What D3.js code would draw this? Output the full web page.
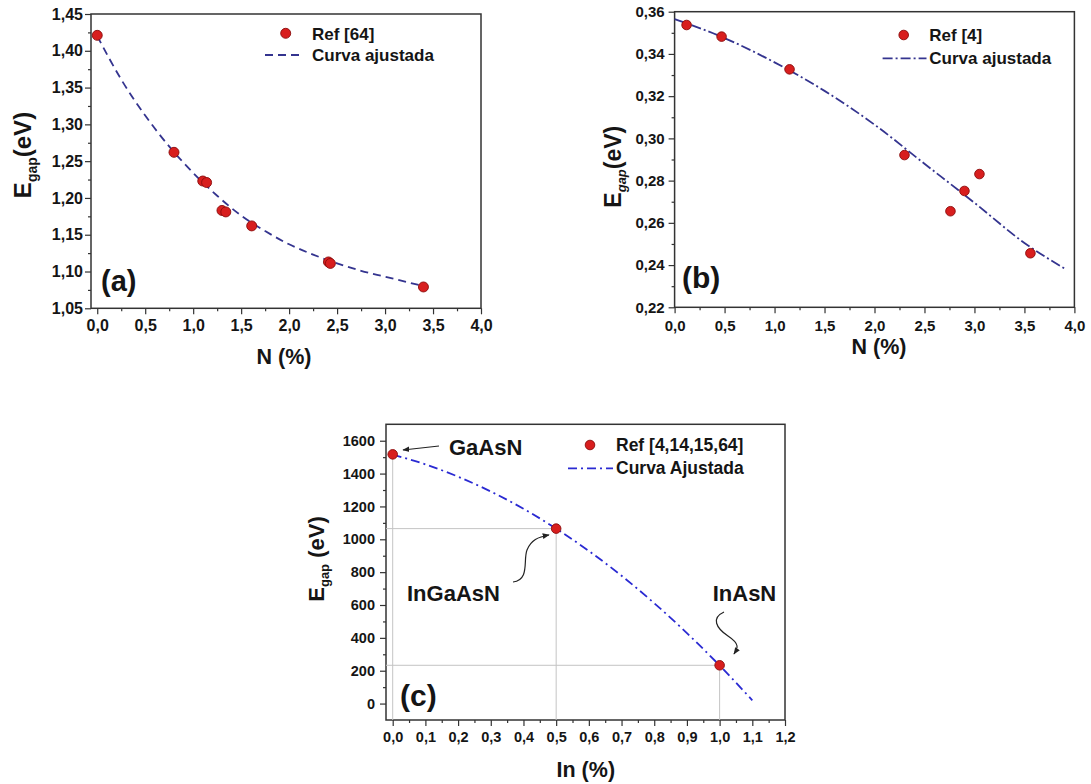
<!DOCTYPE html>
<html>
<head>
<meta charset="utf-8">
<script src="https://cdn.jsdelivr.net/npm/d3@7"></script>
<style>
  html, body { margin: 0; padding: 0; background: #fff; }
  svg { display: block; font-family: "Liberation Sans", Arial, Helvetica, sans-serif; font-weight: bold; }
</style>
</head>
<body>
<svg id="fig" width="1091" height="784"></svg>
<script>
// ---------- (a) E_gap vs N, Ref [64] ----------
const nA    = [0.00, 0.80, 1.10, 1.14, 1.30, 1.34, 1.61, 2.41, 2.43, 3.40];
const eA    = [1.421, 1.262, 1.223, 1.221, 1.183, 1.181, 1.162, 1.113, 1.111, 1.079];
const fitNA = [0, 0.25, 0.5, 0.75, 1.0, 1.25, 1.5, 1.75, 2.0, 2.25, 2.5, 2.75, 3.0, 3.25, 3.4];
const fitEA = [1.420, 1.361, 1.312, 1.270, 1.234, 1.203, 1.176, 1.155, 1.137, 1.123, 1.111, 1.101, 1.093, 1.085, 1.080];
const xTicksA = [0, 0.5, 1.0, 1.5, 2.0, 2.5, 3.0, 3.5, 4.0];
const yTicksA = [1.05, 1.10, 1.15, 1.20, 1.25, 1.30, 1.35, 1.40, 1.45];

// ---------- (b) E_gap vs N, Ref [4] ----------
const nB    = [0.12, 0.47, 1.15, 2.30, 2.76, 2.90, 3.05, 3.56];
const eB    = [0.3537, 0.3482, 0.3327, 0.2921, 0.2655, 0.2751, 0.2831, 0.2456];
const fitNB = [0, 0.5, 1.0, 1.5, 2.0, 2.5, 3.0, 3.5, 3.9];
const fitEB = [0.3565, 0.3475, 0.3360, 0.3225, 0.3065, 0.2880, 0.2695, 0.2505, 0.2384];
const xTicksB = [0, 0.5, 1.0, 1.5, 2.0, 2.5, 3.0, 3.5, 4.0];
const yTicksB = [0.22, 0.24, 0.26, 0.28, 0.30, 0.32, 0.34, 0.36];

// ---------- (c) E_gap vs In ----------
const inC    = [0.0, 0.5, 1.0];
const eC     = [1517, 1065, 233];
const nameC  = ["GaAsN", "InGaAsN", "InAsN"];
const fitInC = [0, 0.1, 0.2, 0.3, 0.4, 0.5, 0.6, 0.7, 0.8, 0.9, 1.0, 1.1];
const fitEC  = [1515, 1456, 1381, 1291, 1186, 1065, 929, 778, 611, 429, 232, 20];
const xTicksC = [0, 0.1, 0.2, 0.3, 0.4, 0.5, 0.6, 0.7, 0.8, 0.9, 1.0, 1.1, 1.2];
const yTicksC = [0, 200, 400, 600, 800, 1000, 1200, 1400, 1600];

const svg = d3.select("#fig");
svg.append("rect").attr("width", 1091).attr("height", 784).attr("fill", "#fff");

const defs = svg.append("defs");
defs.append("marker")
  .attr("id", "head").attr("viewBox", "0 0 10 10")
  .attr("refX", 9).attr("refY", 5)
  .attr("markerWidth", 7).attr("markerHeight", 7)
  .attr("markerUnits", "userSpaceOnUse")
  .attr("orient", "auto")
  .append("path").attr("d", "M0,1 L10,5 L0,9 Z").attr("fill", "#222");

const comma = dec => d => d.toFixed(dec).replace(".", ",");

function midpoints(t) {
  const m = [];
  for (let i = 0; i < t.length - 1; i++) m.push((t[i] + t[i + 1]) / 2);
  return m;
}

function drawPanel(o) {
  const g = svg.append("g");
  const x = d3.scaleLinear().domain(o.xDomain).range([o.left, o.right]);
  const y = d3.scaleLinear().domain(o.yDomain).range([o.bottom, o.top]);

  const styleAxis = sel => {
    sel.select(".domain").remove();
    sel.selectAll(".tick line").attr("stroke", "#333").attr("stroke-width", 1.2);
    sel.selectAll(".tick text")
      .attr("fill", "#151515")
      .style("font-size", o.tickFont + "px")
      .style("font-weight", "bold")
      .style("font-family", '"Liberation Sans", Arial, sans-serif');
  };

  // minor ticks
  g.append("g").attr("transform", `translate(0,${o.bottom})`)
    .call(d3.axisBottom(x).tickValues(midpoints(o.xTicks)).tickSize(3).tickFormat(""))
    .call(styleAxis);
  g.append("g").attr("transform", `translate(${o.left},0)`)
    .call(d3.axisLeft(y).tickValues(midpoints(o.yTicks)).tickSize(3).tickFormat(""))
    .call(styleAxis);

  // major ticks with labels
  g.append("g").attr("transform", `translate(0,${o.bottom})`)
    .call(d3.axisBottom(x).tickValues(o.xTicks).tickSize(6).tickPadding(o.xPad).tickFormat(o.xFmt))
    .call(styleAxis);
  g.append("g").attr("transform", `translate(${o.left},0)`)
    .call(d3.axisLeft(y).tickValues(o.yTicks).tickSize(6).tickPadding(o.yPad).tickFormat(o.yFmt))
    .call(styleAxis);

  // frame
  g.append("rect")
    .attr("x", o.left).attr("y", o.top)
    .attr("width", o.right - o.left).attr("height", o.bottom - o.top)
    .attr("fill", "none").attr("stroke", "#333").attr("stroke-width", 1.5);

  return { g, x, y };
}

function fitLine(p, xs, ys, color, dash, width) {
  const pts = xs.map((v, i) => [v, ys[i]]);
  const line = d3.line().x(d => p.x(d[0])).y(d => p.y(d[1])).curve(d3.curveMonotoneX);
  p.g.append("path").datum(pts)
    .attr("d", line).attr("fill", "none")
    .attr("stroke", color).attr("stroke-width", width)
    .attr("stroke-dasharray", dash);
}

function dots(p, xs, ys, r) {
  p.g.selectAll(null).data(xs.map((v, i) => [v, ys[i]])).enter()
    .append("circle")
    .attr("cx", d => p.x(d[0])).attr("cy", d => p.y(d[1]))
    .attr("r", r).attr("fill", "#d81e1e")
    .attr("stroke", "#8a0c0c").attr("stroke-width", 0.9);
}

function text(g, x, y, str, size, anchor) {
  return g.append("text").attr("x", x).attr("y", y)
    .attr("text-anchor", anchor || "start")
    .attr("fill", "#151515").style("font-size", size + "px").text(str);
}

function yTitle(g, cx, cy, size, subSize, italicSub, space) {
  const t = g.append("text")
    .attr("transform", `translate(${cx},${cy}) rotate(-90)`)
    .attr("text-anchor", "middle").attr("fill", "#151515")
    .style("font-size", size + "px");
  t.append("tspan").text("E");
  t.append("tspan").attr("dy", subSize * 0.4).style("font-size", subSize + "px")
    .style("font-style", italicSub ? "italic" : "normal").text("gap");
  t.append("tspan").attr("dy", -subSize * 0.4).text((space ? " " : "") + "(eV)");
}

// ================= Panel (a) =================
const pA = drawPanel({
  left: 91, right: 481, top: 14, bottom: 308.3,
  xDomain: [-0.065, 4.0], yDomain: [1.05, 1.45],
  xTicks: xTicksA, yTicks: yTicksA,
  xFmt: comma(1), yFmt: comma(2),
  tickFont: 16, xPad: 5.4, yPad: 2
});
fitLine(pA, fitNA, fitEA, "#34348f", "8,5", 1.8);
dots(pA, nA, eA, 5);
// legend
pA.g.append("circle").attr("cx", 285.7).attr("cy", 33.3).attr("r", 5)
  .attr("fill", "#d81e1e").attr("stroke", "#8a0c0c").attr("stroke-width", 0.9);
text(pA.g, 312, 39.5, "Ref [64]", 17);
pA.g.append("line").attr("x1", 265).attr("x2", 302).attr("y1", 55).attr("y2", 55)
  .attr("stroke", "#34348f").attr("stroke-width", 1.8).attr("stroke-dasharray", "8,5");
text(pA.g, 312, 61, "Curva ajustada", 17);
text(pA.g, 101, 291, "(a)", 29);
text(pA.g, 284, 364, "N (%)", 21.5, "middle");
yTitle(pA.g, 31, 155, 24, 14, false, false);

// ================= Panel (b) =================
const pB = drawPanel({
  left: 674.6, right: 1074.4, top: 11.7, bottom: 307.3,
  xDomain: [0, 4.0], yDomain: [0.22, 0.36],
  xTicks: xTicksB, yTicks: yTicksB,
  xFmt: comma(1), yFmt: comma(2),
  tickFont: 15, xPad: 6.7, yPad: 4
});
fitLine(pB, fitNB, fitEB, "#34348f", "10,3,2,3", 1.8);
dots(pB, nB, eB, 4.8);
pB.g.append("circle").attr("cx", 903.7).attr("cy", 35).attr("r", 4.8)
  .attr("fill", "#d81e1e").attr("stroke", "#8a0c0c").attr("stroke-width", 0.9);
text(pB.g, 929.3, 41, "Ref [4]", 17);
pB.g.append("line").attr("x1", 882.6).attr("x2", 926.5).attr("y1", 58.3).attr("y2", 58.3)
  .attr("stroke", "#34348f").attr("stroke-width", 1.8).attr("stroke-dasharray", "10,3,2,3");
text(pB.g, 929.3, 64.3, "Curva ajustada", 17);
text(pB.g, 682, 288, "(b)", 30);
text(pB.g, 879, 354, "N (%)", 21.5, "middle");
yTitle(pB.g, 621, 166.7, 23, 13, true, false);

// ================= Panel (c) =================
const pC = drawPanel({
  left: 386, right: 785, top: 424.3, bottom: 720,
  xDomain: [-0.0205, 1.2], yDomain: [-100, 1700],
  xTicks: xTicksC, yTicks: yTicksC,
  xFmt: comma(1), yFmt: d => String(d),
  tickFont: 14.5, xPad: 5.6, yPad: 5
});
// guide lines from each compound down to the axes
inC.forEach((v, i) => {
  pC.g.append("line")
    .attr("x1", pC.x(v)).attr("x2", pC.x(v))
    .attr("y1", pC.y(eC[i])).attr("y2", pC.y(-100))
    .attr("stroke", "#c4c4c4").attr("stroke-width", 1);
  if (v > 0) {
    pC.g.append("line")
      .attr("x1", pC.x(-0.0205)).attr("x2", pC.x(v))
      .attr("y1", pC.y(eC[i])).attr("y2", pC.y(eC[i]))
      .attr("stroke", "#c4c4c4").attr("stroke-width", 1);
  }
});
fitLine(pC, fitInC, fitEC, "#2a2ad2", "9,4,2,4", 1.8);
dots(pC, inC, eC, 4.8);
pC.g.append("circle").attr("cx", 590).attr("cy", 445).attr("r", 4.8)
  .attr("fill", "#d81e1e").attr("stroke", "#8a0c0c").attr("stroke-width", 0.9);
text(pC.g, 616, 451, "Ref [4,14,15,64]", 17.5);
pC.g.append("line").attr("x1", 568).attr("x2", 613).attr("y1", 468.3).attr("y2", 468.3)
  .attr("stroke", "#2a2ad2").attr("stroke-width", 1.8).attr("stroke-dasharray", "9,4,2,4");
text(pC.g, 616, 474.3, "Curva Ajustada", 17.5);
text(pC.g, 400, 706, "(c)", 30);
text(pC.g, 585.8, 777, "In (%)", 21.5, "middle");
yTitle(pC.g, 324, 559, 22, 13, false, true);

// compound labels and arrows
text(pC.g, 449, 454.6, nameC[0], 22);
text(pC.g, 407, 600.7, nameC[1], 22);
text(pC.g, 712.7, 600.7, nameC[2], 22);
const arrowStyle = sel => sel.attr("fill", "none").attr("stroke", "#222")
  .attr("stroke-width", 1.2).attr("marker-end", "url(#head)");
pC.g.append("path").attr("d", "M439,446 L403,450").call(arrowStyle);
pC.g.append("path").attr("d", "M513,582 C530,580 523,560 527,550 C531,540 538,537 549,535").call(arrowStyle);
pC.g.append("path").attr("d", "M724,612 C711,618 716,628 728,636 C740,644 738,648 734,654").call(arrowStyle);
</script>
</body>
</html>
